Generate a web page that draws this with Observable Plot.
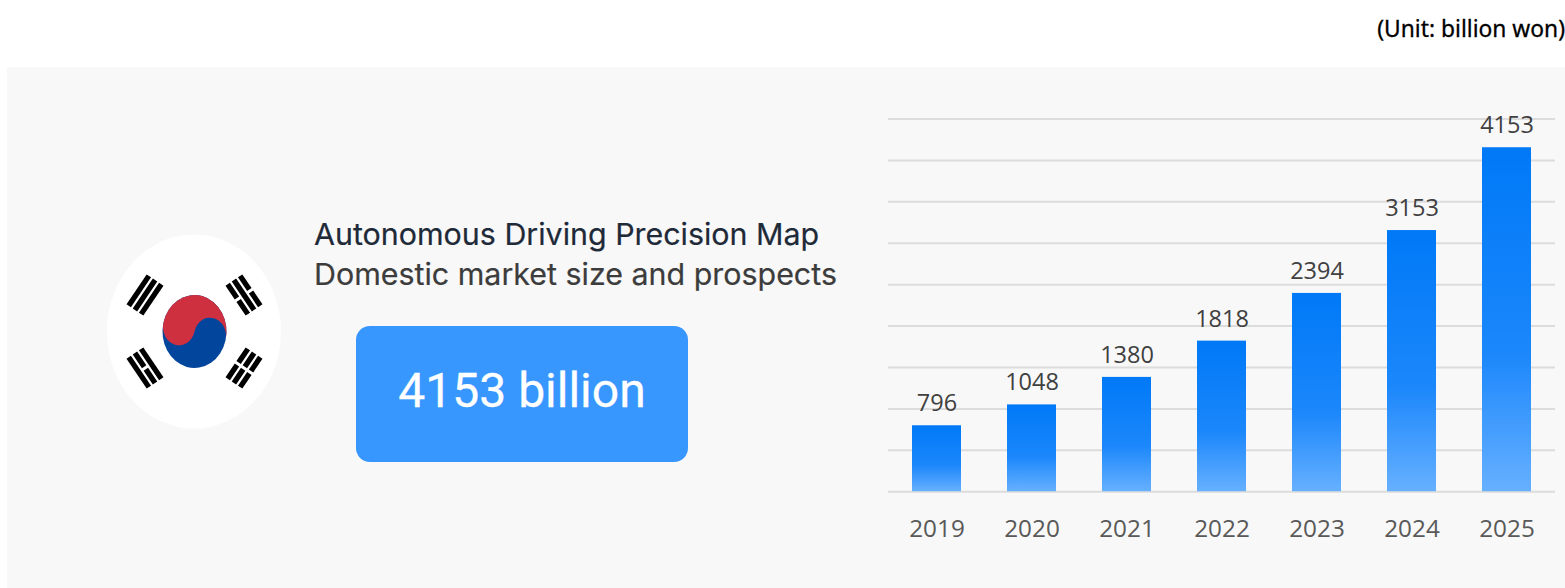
<!DOCTYPE html>
<html>
<head>
<meta charset="utf-8">
<script src="https://cdn.jsdelivr.net/npm/d3@7"></script>
<script src="https://cdn.jsdelivr.net/npm/@observablehq/plot@0.6"></script>
<style>
  html, body { margin: 0; padding: 0; background: #fff; width: 1565px; height: 588px; overflow: hidden; }
  #page { position: relative; width: 1565px; height: 588px; }
  #panel { position: absolute; left: 7px; top: 67px; width: 1558px; height: 521px; background: #f8f8f8; }
  #unit { position: absolute; right: 0; top: 13px; font: 400 22.8px "Noto Sans", sans-serif; color: #000; white-space: nowrap; -webkit-text-stroke: 0.3px #000; }
  .headline { position: absolute; left: 314px; font: 400 30.4px Inter, sans-serif; white-space: nowrap; -webkit-text-stroke: 0.2px currentColor; }
  #h1 { top: 216px; color: #1f2a38; }
  #h2 { top: 256px; color: #3c3c3c; }
  #callout { position: absolute; left: 356px; top: 322px; width: 332px; height: 136px; color: #fff; font: 400 48px Roboto, sans-serif; display: flex; align-items: center; justify-content: center; -webkit-text-stroke: 0.3px #fff; }
  #calloutBox { position: absolute; left: 356px; top: 326px; width: 332px; height: 136px; border-radius: 14px; background: #3797ff; }
  #flag { position: absolute; left: 0; top: 0; }
  #chart { position: absolute; left: 880px; top: 100px; }
  #chart svg { background: transparent; overflow: visible; }
</style>
</head>
<body>
<div id="page">
  <div id="panel"></div>
  <div id="unit">(Unit: billion won)</div>
  <div class="headline" id="h1">Autonomous Driving Precision Map</div>
  <div class="headline" id="h2">Domestic market size and prospects</div>
  <div id="calloutBox"></div>
  <div id="callout">4153 billion</div>
  <svg id="flag" width="400" height="588"></svg>
  <div id="chart"></div>
</div>
<script>
// Market size by year, in billion won
const years = ["2019", "2020", "2021", "2022", "2023", "2024", "2025"];
const marketSize = [796, 1048, 1380, 1818, 2394, 3153, 4153];
const gridLevels = [0, 500, 1000, 1500, 2000, 2500, 3000, 3500, 4000, 4500];

const rows = years.map((year, i) => ({year, value: marketSize[i]}));

// Vertical blue fade shared by every bar
function barFade() {
  const defs = d3.create("svg:defs");
  const g = defs.append("linearGradient").attr("id", "barFade")
    .attr("x1", 0).attr("y1", 0).attr("x2", 0).attr("y2", 1);
  g.append("stop").attr("offset", "0%").attr("stop-color", "#0079f7");
  g.append("stop").attr("offset", "60%").attr("stop-color", "#1b87fb");
  g.append("stop").attr("offset", "100%").attr("stop-color", "#66b0ff");
  return defs.node();
}

const chart = Plot.plot({
  width: 685,
  height: 488,
  marginLeft: 8,
  marginRight: 10,
  marginTop: 18.5,
  marginBottom: 96.8,
  style: {background: "transparent"},
  x: {domain: years, paddingInner: 0.4856, paddingOuter: 0.2428, label: null},
  y: {domain: [0, 4500], axis: null},
  marks: [
    barFade,
    Plot.ruleY(gridLevels, {stroke: "#dcdcdc", strokeWidth: 2}),
    Plot.barY(rows, {x: "year", y: "value", fill: "url(#barFade)"}),
    Plot.text(rows, {
      x: "year", y: "value", text: d => String(d.value), dy: -22,
      fontSize: 23.5, fill: "#404040", fontFamily: "'Open Sans', sans-serif"
    }),
    Plot.axisX({
      tickSize: 0, tickPadding: 28, label: null,
      fontSize: 24.3, fill: "#595959", fontFamily: "'Open Sans', sans-serif"
    })
  ]
});
document.getElementById("chart").append(chart);

// Taegukgi emblem: white disc, yin-yang and the four trigrams
const trigrams = [
  {cx: 145, cy: 295, angle: -56, lines: [0, 0, 0]},
  {cx: 244, cy: 295, angle: 56, lines: [1, 0, 1]},
  {cx: 145, cy: 368, angle: 56, lines: [0, 1, 0]},
  {cx: 244, cy: 368, angle: -56, lines: [1, 1, 1]}
];
const flag = d3.select("#flag");
flag.append("ellipse").attr("cx", 194).attr("cy", 331.5).attr("rx", 87).attr("ry", 97).attr("fill", "#fff");

const yinYang = flag.append("g").attr("transform", "translate(194.5,331.5) scale(1,1.14) rotate(14)");
yinYang.append("circle").attr("r", 32).attr("fill", "#02459c");
yinYang.append("path")
  .attr("d", "M-32,0 A32,32 0 0 1 32,0 A16,16 0 0 0 0,0 A16,16 0 0 1 -32,0 Z")
  .attr("fill", "#cf303f");

const barLength = 36, barThick = 5.3, barGap = 2.2, breakGap = 3;
for (const t of trigrams) {
  const g = flag.append("g").attr("transform", `translate(${t.cx},${t.cy}) rotate(${t.angle})`);
  t.lines.forEach((broken, i) => {
    const y = (i - 1) * (barThick + barGap) - barThick / 2;
    if (broken) {
      const half = (barLength - breakGap) / 2;
      g.append("rect").attr("x", -barLength / 2).attr("y", y).attr("width", half).attr("height", barThick).attr("fill", "#000");
      g.append("rect").attr("x", breakGap / 2).attr("y", y).attr("width", half).attr("height", barThick).attr("fill", "#000");
    } else {
      g.append("rect").attr("x", -barLength / 2).attr("y", y).attr("width", barLength).attr("height", barThick).attr("fill", "#000");
    }
  });
}
</script>
</body>
</html>
